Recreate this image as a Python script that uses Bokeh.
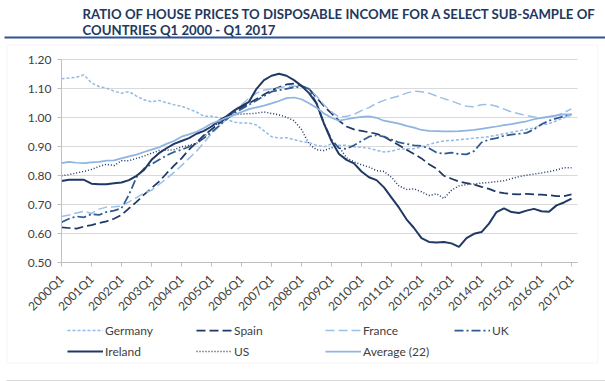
from math import pi
from bokeh.plotting import figure
from bokeh.models import (Range1d, FixedTicker, Legend, LegendItem, Label,
                          BoxAnnotation, NumeralTickFormatter)
from bokeh.embed import file_html
from bokeh.resources import INLINE

# ---------------- data ----------------
quarters = [f"{yr}Q{qq}" for yr in range(2000, 2018) for qq in range(1, 5)][:69]
y_ticks = [0.5, 0.6, 0.7, 0.8, 0.9, 1.0, 1.1, 1.2]

germany = [1.135, 1.137, 1.140, 1.148, 1.120, 1.108, 1.102, 1.092, 1.085, 1.090,
           1.075, 1.062, 1.055, 1.060, 1.052, 1.045, 1.040, 1.030, 1.020, 1.005,
           1.005, 1.000, 0.995, 0.985, 0.982, 0.982, 0.975, 0.955, 0.935, 0.930,
           0.931, 0.925, 0.918, 0.915, 0.905, 0.900, 0.910, 0.905, 0.905, 0.900,
           0.898, 0.895, 0.888, 0.882, 0.885, 0.892, 0.893, 0.893, 0.900, 0.908,
           0.915, 0.920, 0.922, 0.924, 0.927, 0.930, 0.932, 0.935, 0.940, 0.945,
           0.950, 0.955, 0.960, 0.965, 0.975, 0.980, 0.990, 1.000, 1.010]

spain = [0.622, 0.620, 0.618, 0.625, 0.630, 0.637, 0.643, 0.652, 0.665, 0.688,
         0.710, 0.735, 0.757, 0.780, 0.808, 0.835, 0.860, 0.890, 0.915, 0.940,
         0.960, 0.980, 1.000, 1.020, 1.035, 1.050, 1.065, 1.080, 1.095, 1.105,
         1.115, 1.118, 1.110, 1.100, 1.070, 1.040, 1.015, 0.990, 0.970, 0.960,
         0.955, 0.950, 0.945, 0.935, 0.920, 0.905, 0.890, 0.875, 0.860, 0.840,
         0.825, 0.800, 0.790, 0.780, 0.775, 0.770, 0.762, 0.755, 0.745, 0.740,
         0.737, 0.736, 0.738, 0.736, 0.735, 0.733, 0.730, 0.730, 0.736]

france = [0.660, 0.665, 0.672, 0.678, 0.670, 0.685, 0.692, 0.693, 0.695, 0.710,
          0.725, 0.740, 0.750, 0.770, 0.790, 0.812, 0.835, 0.860, 0.885, 0.915,
          0.945, 0.970, 0.995, 1.025, 1.045, 1.068, 1.085, 1.095, 1.100, 1.103,
          1.108, 1.110, 1.106, 1.100, 1.075, 1.045, 1.020, 1.003, 1.005, 1.012,
          1.025, 1.035, 1.050, 1.060, 1.068, 1.075, 1.085, 1.092, 1.090, 1.085,
          1.075, 1.066, 1.058, 1.048, 1.040, 1.038, 1.045, 1.046, 1.040, 1.030,
          1.020, 1.014, 1.008, 1.003, 1.000, 1.002, 1.008, 1.018, 1.031]

uk = [0.640, 0.652, 0.660, 0.657, 0.668, 0.665, 0.675, 0.680, 0.688, 0.735,
      0.795, 0.825, 0.840, 0.855, 0.870, 0.882, 0.890, 0.900, 0.912, 0.930,
      0.950, 0.972, 0.995, 1.015, 1.030, 1.045, 1.060, 1.075, 1.090, 1.095,
      1.100, 1.105, 1.108, 1.100, 1.050, 0.980, 0.925, 0.895, 0.893, 0.905,
      0.920, 0.935, 0.940, 0.935, 0.925, 0.915, 0.910, 0.905, 0.903, 0.895,
      0.880, 0.876, 0.880, 0.875, 0.874, 0.885, 0.915, 0.925, 0.930, 0.938,
      0.942, 0.945, 0.948, 0.960, 0.978, 0.990, 0.998, 1.005, 1.012]

ireland = [0.782, 0.786, 0.786, 0.786, 0.773, 0.771, 0.771, 0.774, 0.777, 0.785,
           0.800, 0.820, 0.855, 0.878, 0.895, 0.910, 0.920, 0.930, 0.945, 0.955,
           0.970, 0.990, 1.005, 1.025, 1.040, 1.055, 1.100, 1.130, 1.145, 1.152,
           1.145, 1.130, 1.110, 1.085, 1.050, 0.980, 0.920, 0.875, 0.855, 0.843,
           0.815, 0.795, 0.785, 0.760, 0.725, 0.690, 0.650, 0.620, 0.585, 0.572,
           0.570, 0.572, 0.567, 0.555, 0.585, 0.600, 0.606, 0.635, 0.675, 0.688,
           0.675, 0.672, 0.680, 0.686, 0.678, 0.676, 0.698, 0.708, 0.721]

us = [0.800, 0.804, 0.810, 0.815, 0.822, 0.832, 0.840, 0.835, 0.852, 0.852,
      0.860, 0.868, 0.878, 0.887, 0.888, 0.890, 0.900, 0.905, 0.912, 0.935,
      0.960, 0.985, 1.000, 1.010, 1.013, 1.014, 1.016, 1.020, 1.015, 1.010,
      1.002, 0.990, 0.960, 0.910, 0.890, 0.887, 0.897, 0.900, 0.862, 0.848,
      0.838, 0.830, 0.818, 0.815, 0.795, 0.765, 0.753, 0.755, 0.745, 0.732,
      0.738, 0.722, 0.750, 0.765, 0.770, 0.772, 0.775, 0.777, 0.780, 0.783,
      0.790, 0.797, 0.802, 0.806, 0.810, 0.814, 0.820, 0.828, 0.828]

average = [0.844, 0.848, 0.845, 0.844, 0.846, 0.848, 0.852, 0.853, 0.860, 0.867,
           0.873, 0.882, 0.890, 0.898, 0.910, 0.920, 0.935, 0.943, 0.952, 0.965,
           0.980, 0.990, 1.000, 1.010, 1.020, 1.030, 1.036, 1.042, 1.050, 1.058,
           1.068, 1.070, 1.064, 1.050, 1.035, 1.015, 1.000, 0.990, 0.995, 1.000,
           1.003, 1.005, 1.000, 0.990, 0.985, 0.980, 0.972, 0.966, 0.958, 0.955,
           0.954, 0.953, 0.953, 0.954, 0.956, 0.958, 0.962, 0.966, 0.970, 0.975,
           0.978, 0.983, 0.988, 0.995, 1.000, 1.004, 1.008, 1.012, 1.012]

title_lines = ["RATIO OF HOUSE PRICES TO DISPOSABLE INCOME FOR A SELECT SUB-SAMPLE OF",
               "COUNTRIES Q1 2000 - Q1 2017"]

# ---------------- layout constants (pixels) ----------------
WIDTH, HEIGHT = 605, 381
PLOT_L, PLOT_R, PLOT_T, PLOT_B = 61, 577, 59.3, 262.3
PX_PER_Q = 7.5
X_END = (PLOT_R - PLOT_L) / PX_PER_Q
PX_PER_UNIT = (PLOT_B - PLOT_T) / 0.7
FONT = "Lato"
TXT = "#404040"

p = figure(width=WIDTH, height=HEIGHT, output_backend="svg", toolbar_location=None,
           x_range=Range1d(-PLOT_L / PX_PER_Q, X_END + (WIDTH - PLOT_R) / PX_PER_Q),
           y_range=Range1d(0.5 - (HEIGHT - PLOT_B) / PX_PER_UNIT,
                           1.2 + PLOT_T / PX_PER_UNIT),
           min_border=0)
p.title.visible = False
p.outline_line_color = None
p.xgrid.grid_line_color = None
p.ygrid.grid_line_color = "#d9d9d9"
p.ygrid.cross_bounds = (0, X_END)
p.ygrid.bounds = (0.5, 1.2)

xpos = list(range(len(quarters)))
tick_idx = xpos[::4]
p.xaxis.ticker = FixedTicker(ticks=tick_idx)
p.xaxis.major_label_overrides = {i: quarters[i] for i in tick_idx}
p.xaxis.major_label_orientation = pi / 4
p.xaxis.fixed_location = 0.5
p.xaxis.bounds = (0, X_END)
p.yaxis.ticker = FixedTicker(ticks=y_ticks)
p.yaxis.formatter = NumeralTickFormatter(format="0.00")
p.yaxis.fixed_location = 0
p.yaxis.bounds = (0.5, 1.2)
for ax in (p.xaxis, p.yaxis):
    ax.axis_line_color = "#bfbfbf"
    ax.major_tick_line_color = "#bfbfbf"
    ax.major_tick_out = 4
    ax.major_tick_in = 0
    ax.minor_tick_line_color = None
    ax.major_label_text_font = FONT
    ax.major_label_text_font_size = "12px"
    ax.major_label_text_color = TXT
p.yaxis.major_label_standoff = 6
p.xaxis.major_label_standoff = 10

specs = [
    ("Germany", germany, "#95b9e4", 1.5, "3 2"),
    ("Spain", spain, "#1f3864", 1.75, "9 4"),
    ("France", france, "#9dbfe6", 1.5, "9 4"),
    ("UK", uk, "#2f5a8f", 1.75, "9 3 2 3"),
    ("Ireland", ireland, "#1f3864", 2.0, "solid"),
    ("US", us, "#1f3864", 1.5, "1 2"),
    ("Average (22)", average, "#8eb4e3", 1.75, "solid"),
]
items = []
for name, vals, color, w, dash in specs:
    r = p.line(xpos, vals, line_color=color, line_width=w, line_dash=dash)
    items.append(LegendItem(label=name, renderers=[r]))

# legend: rows centred at y=330 and y=351 (from top)
legend = Legend(items=items, location=(67, HEIGHT - 320 - 41), orientation="horizontal",
                ncols=4, padding=0, spacing=1, margin=0, glyph_width=36,
                glyph_height=20, label_height=20, label_width=90, label_standoff=2,
                label_text_font=FONT, label_text_font_size="12px",
                label_text_color=TXT, border_line_color=None,
                background_fill_alpha=0)
p.add_layout(legend, "center")

# title (screen units measured from the bottom of the canvas)
for txt, base in zip(title_lines, [13.3, 29.3]):
    p.add_layout(Label(x=82, y=HEIGHT - base, x_units="screen", y_units="screen",
                       text=txt, text_font=FONT, text_font_style="bold",
                       text_font_size="13.2px", text_color="#22385e",
                       text_baseline="alphabetic"))

def screen_box(left, right, top, bottom, **kw):
    return BoxAnnotation(left=left, right=right, top=HEIGHT - top, bottom=HEIGHT - bottom,
                         left_units="screen", right_units="screen",
                         top_units="screen", bottom_units="screen", **kw)

# blue rule under the title
p.add_layout(screen_box(4, WIDTH, 36, 38, fill_color="#2f5597", fill_alpha=1,
                        line_color=None))
# light frame around chart + legend
p.add_layout(screen_box(6.5, 597.5, 44.5, 362.5, fill_alpha=0,
                        line_color="#d9d9d9", line_width=1))
# faint rule at the bottom
p.add_layout(screen_box(6, WIDTH, 379.5, 380.5, fill_color="#d9d9d9", fill_alpha=1,
                        line_color=None))

open("out.html", "w").write(file_html(p, INLINE))
